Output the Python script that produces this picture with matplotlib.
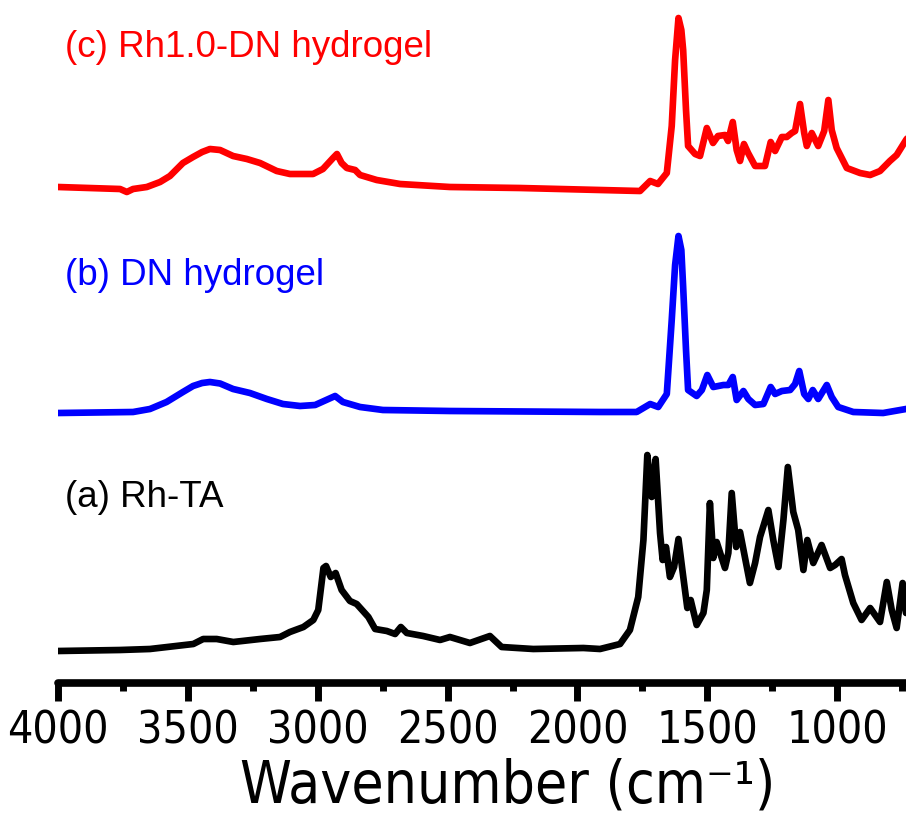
import numpy as np
import matplotlib
matplotlib.use("Agg")
import matplotlib.pyplot as plt
from matplotlib.ticker import MultipleLocator

wn_c = [4000, 3761, 3735, 3711, 3658, 3607, 3569, 3519, 3480, 3445, 3415, 3376, 3326, 3273,
        3222, 3158, 3107, 3018, 2980, 2941, 2926, 2908, 2888, 2856, 2837, 2773, 2683,
        2491, 2221, 1913, 1759, 1720, 1690, 1656, 1637, 1624, 1611, 1600, 1593, 1582,
        1574, 1547, 1528, 1502, 1478, 1459, 1432, 1420, 1402, 1387, 1374, 1359, 1343,
        1316, 1278, 1256, 1239, 1213, 1194, 1175, 1162, 1143, 1127, 1117, 1098, 1073,
        1050, 1034, 1021, 1002, 963, 912, 873, 835, 797, 771, 735, 700]
int_c = [0.00, -0.02, -0.05, -0.02, 0.00, 0.05, 0.11, 0.24, 0.30, 0.35, 0.38, 0.37, 0.31, 0.28,
         0.24, 0.16, 0.13, 0.13, 0.18, 0.29, 0.33, 0.24, 0.19, 0.17, 0.12, 0.07, 0.03,
         0.00, -0.01, -0.03, -0.04, 0.06, 0.03, 0.14, 0.61, 1.27, 1.69, 1.57, 1.37, 0.77,
         0.41, 0.33, 0.31, 0.59, 0.44, 0.51, 0.52, 0.46, 0.65, 0.37, 0.26, 0.43, 0.34,
         0.21, 0.21, 0.45, 0.36, 0.50, 0.50, 0.54, 0.56, 0.83, 0.54, 0.41, 0.54, 0.41,
         0.56, 0.87, 0.57, 0.39, 0.19, 0.14, 0.12, 0.16, 0.26, 0.32, 0.47, 0.60]

wn_b = [4000, 3711, 3646, 3582, 3519, 3480, 3445, 3415, 3376, 3326, 3261, 3196, 3134, 3068,
        3010, 2933, 2903, 2837, 2749, 2491, 1913, 1772, 1720, 1689, 1656, 1637, 1624,
        1611, 1600, 1593, 1582, 1574, 1541, 1521, 1500, 1477, 1438, 1419, 1402, 1387,
        1361, 1342, 1316, 1284, 1256, 1239, 1213, 1181, 1162, 1146, 1127, 1111, 1094,
        1073, 1040, 1021, 996, 938, 823, 735, 700]
int_b = [-0.01, 0.00, 0.03, 0.10, 0.20, 0.26, 0.29, 0.30, 0.285, 0.23, 0.19, 0.13, 0.08, 0.06,
         0.07, 0.16, 0.10, 0.05, 0.02, 0.01, 0.00, 0.00, 0.08, 0.05, 0.18, 0.92, 1.47,
         1.76, 1.62, 1.25, 0.62, 0.22, 0.16, 0.22, 0.37, 0.25, 0.27, 0.27, 0.35, 0.12,
         0.21, 0.13, 0.07, 0.08, 0.25, 0.18, 0.21, 0.22, 0.28, 0.41, 0.18, 0.13, 0.22,
         0.13, 0.27, 0.15, 0.05, 0.00, -0.01, 0.03, 0.05]

wn_a = [4000, 3761, 3646, 3479, 3441, 3389, 3325, 3222, 3145, 3107, 3055, 3017, 2998,
        2978, 2968, 2950, 2931, 2908, 2876, 2850, 2805, 2779, 2734, 2702, 2680, 2657,
        2594, 2529, 2491, 2414, 2337, 2292, 2170, 1977, 1913, 1836, 1798, 1766, 1746,
        1731, 1714, 1699, 1682, 1672, 1659, 1644, 1628, 1611, 1595, 1577, 1564, 1541,
        1515, 1502, 1490, 1477, 1464, 1432, 1419, 1406, 1389, 1374, 1336, 1316, 1297,
        1265, 1246, 1226, 1207, 1190, 1169, 1150, 1130, 1115, 1092, 1060, 1027, 1008,
        983, 970, 938, 906, 873, 835, 809, 790, 771, 748, 735, 700]
int_a = [-0.01, 0.00, 0.01, 0.06, 0.11, 0.11, 0.08, 0.11, 0.13, 0.18, 0.23, 0.30, 0.40,
         0.82, 0.84, 0.73, 0.77, 0.60, 0.49, 0.46, 0.33, 0.21, 0.19, 0.16, 0.23, 0.17,
         0.14, 0.10, 0.13, 0.07, 0.14, 0.03, 0.01, 0.02, 0.01, 0.06, 0.20, 0.53, 1.10,
         1.95, 1.53, 1.91, 1.17, 0.90, 1.03, 0.73, 0.83, 1.11, 0.78, 0.42, 0.50, 0.25,
         0.37, 0.60, 1.47, 0.92, 1.08, 0.82, 0.97, 1.57, 1.03, 1.18, 0.67, 0.87, 1.13,
         1.40, 1.10, 0.83, 1.30, 1.83, 1.38, 1.20, 0.80, 1.10, 0.87, 1.05, 0.82, 0.85,
         0.91, 0.75, 0.47, 0.30, 0.42, 0.28, 0.68, 0.40, 0.22, 0.67, 0.37, 0.50]

# desplazamiento vertical de cada espectro
offsets = {"a": 0.33, "b": 2.71, "c": 4.96}
etiquetas = ["(a) Rh-TA", "(b) DN hydrogel", "(c) Rh1.0-DN hydrogel"]
colores = ["black", "#0000FF", "#FF0000"]

plt.rcParams["font.family"] = ["Liberation Sans", "DejaVu Sans"]

fig = plt.figure(figsize=(9.06, 8.25), dpi=100)
ax = fig.add_axes([58 / 906, 142 / 825, 848 / 906, 683 / 825])

series = [(wn_a, int_a, offsets["a"]), (wn_b, int_b, offsets["b"]), (wn_c, int_c, offsets["c"])]
for (wn, inten, off), col in zip(series, colores):
    ax.plot(wn, np.array(inten) + off, color=col, lw=4.8,
            solid_joinstyle="round", solid_capstyle="round")

# textos de cada curva
ypos_txt = [1.76, 3.98, 6.26]
for txt, col, yt in zip(etiquetas, colores, ypos_txt):
    ax.text(3973, yt, txt, color=col, fontsize=26.5, va="baseline", ha="left")

ax.set_xlim(4000, 735)
ax.set_ylim(0, 6.83)

for s in ["left", "right", "top"]:
    ax.spines[s].set_visible(False)
ax.spines["bottom"].set_linewidth(5.5)
ax.spines["bottom"].set_capstyle("round")
ax.set_yticks([])

# fuente angosta para los ejes
narrow = ["Liberation Sans Narrow", "DejaVu Sans"]

ax.xaxis.set_major_locator(MultipleLocator(500))
ax.xaxis.set_minor_locator(MultipleLocator(250))
ax.tick_params(axis="x", which="major", length=13, width=5, pad=6, labelsize=32)
ax.tick_params(axis="x", which="minor", length=6, width=5)
for lbl in ax.get_xticklabels():
    lbl.set_family(narrow)
    lbl.set_stretch("condensed")

ax.set_xlabel("Wavenumber (cm\u207b\u00b9)", fontsize=42, labelpad=4,
              family=narrow, stretch="condensed")
ax.xaxis.label.set_x(0.53)

fig.savefig("out.png", dpi=100)
